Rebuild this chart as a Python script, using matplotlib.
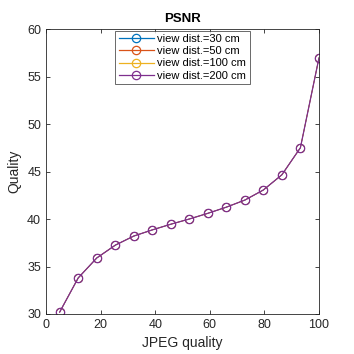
import matplotlib
matplotlib.use('Agg')
import matplotlib.pyplot as plt

# data
jpeg_q = [5, 11.8, 18.6, 25.4, 32.1, 38.9, 45.7, 52.5, 59.3, 66.1, 72.9, 79.6, 86.4, 93.2, 100]
psnr = [30.2, 33.8, 35.9, 37.25, 38.2, 38.85, 39.45, 40.0, 40.6, 41.25, 42.0, 43.05, 44.65, 47.5, 56.95]

labels = ['view dist.=30 cm', 'view dist.=50 cm', 'view dist.=100 cm', 'view dist.=200 cm']
colors = ['#0072BD', '#D95319', '#EDB120', '#7E2F8E']
series = [psnr, psnr, psnr, psnr]

plt.rcParams['font.family'] = ['Liberation Sans', 'DejaVu Sans']

fig = plt.figure(figsize=(3.54, 3.54), dpi=100)
ax = fig.add_axes([0.13, 0.113, 0.771, 0.805])

for i, (vals, lab, col) in enumerate(zip(series, labels, colors)):
    top = i == len(series) - 1
    ax.plot(jpeg_q, vals, color=col, marker='o', markersize=6, markerfacecolor='none',
            markeredgewidth=0.9 if top else 0.5, linewidth=0.9 if top else 0.5, label=lab)

ax.set_xlim(0, 100)
ax.set_ylim(30, 60)
ax.set_xticks([0, 20, 40, 60, 80, 100])
ax.set_yticks([30, 35, 40, 45, 50, 55, 60])
ax.tick_params(direction='in', top=True, right=True, labelsize=9, length=3, width=0.6, colors='#262626')
for s in ax.spines.values():
    s.set_linewidth(0.6)
    s.set_color('#262626')

ax.set_title('PSNR', fontsize=9.5, fontweight='bold', pad=5)
ax.set_xlabel('JPEG quality', fontsize=10, color='#262626')
ax.set_ylabel('Quality', fontsize=10, color='#262626')

leg = ax.legend(loc='upper center', bbox_to_anchor=(0.5, 1.0), fontsize=8, frameon=True,
                fancybox=False, edgecolor='#262626', handlelength=3.2, borderpad=0.3,
                labelspacing=0.2, handletextpad=0.3, borderaxespad=0.15)
leg.get_frame().set_linewidth(0.6)
for h in leg.legend_handles:
    h.set_linewidth(0.9)
    h.set_markeredgewidth(0.9)

fig.savefig('out.png', dpi=100)
